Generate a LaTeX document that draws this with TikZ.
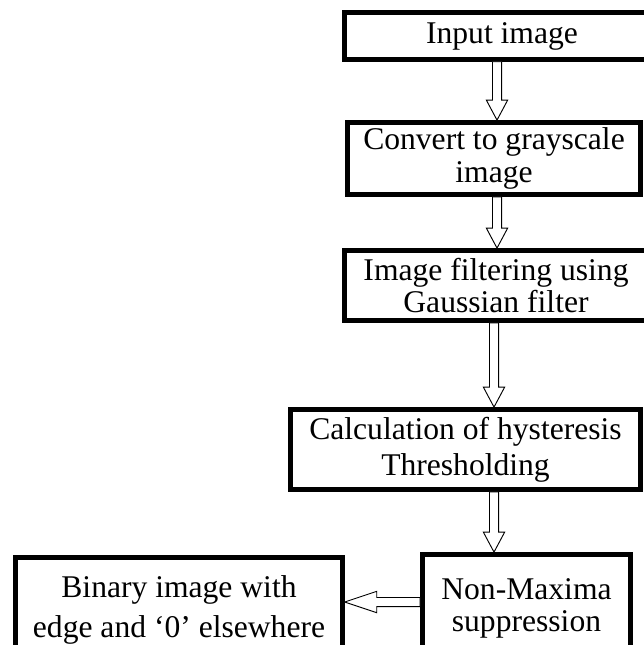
\documentclass[tikz,border=0pt]{standalone}
\usepackage{fontspec}
\setmainfont{Liberation Serif}
\usetikzlibrary{calc}

\newcommand\headlen{15pt}
\tikzset{
  stage/.style={draw, line width=3.6pt, align=center, inner sep=0pt},
  head len/.store in=\headlen,
  hollow/.style={draw, line width=0.7pt, fill=white, to path={
    let \p1=(\tikztostart), \p2=(\tikztotarget), \n1={atan2(\y2-\y1,\x2-\x1)} in
    ($(\p1)+({\n1+90}:3.4pt)$) -- ($(\p2)!\headlen!(\p1)+({\n1+90}:3.4pt)$)
    -- ($(\p2)!\headlen!(\p1)+({\n1+90}:8pt)$) -- (\p2)
    -- ($(\p2)!\headlen!(\p1)+({\n1-90}:8pt)$) -- ($(\p2)!\headlen!(\p1)+({\n1-90}:3.4pt)$)
    -- ($(\p1)+({\n1-90}:3.4pt)$) -- cycle}}
}

\begin{document}
\begin{tikzpicture}[x=0.75pt, y=-0.75pt]
  \useasboundingbox (0,0) rectangle (643,645);
  % processing stages
  \node[stage, minimum width=236pt, minimum height=35pt, font=\fontsize{23.7}{25}\selectfont] (input) at (502,36) {Input image};
  \node[stage, minimum width=220pt, minimum height=54pt, font=\fontsize{23.7}{25}\selectfont] (gray) at (494,158.5) {Convert to grayscale\\image};
  \node[stage, minimum width=227pt, minimum height=52.5pt, font=\fontsize{23.7}{23.5}\selectfont] (gauss) at (496,285.5) {Image filtering using\\Gaussian filter};
  \node[stage, minimum width=262.5pt, minimum height=60pt, font=\fontsize{23.7}{27}\selectfont] (hyst) at (465.5,449.5) {Calculation of hysteresis\\Thresholding};
  \node[stage, minimum width=156pt, minimum height=81pt, font=\fontsize{23.7}{24}\selectfont] (nms) at (526.5,608.5) {Non-Maxima\\suppression};
  \node[stage, minimum width=245pt, minimum height=79pt, font=\fontsize{23.7}{30}\selectfont] (binary) at (179,610) {Binary image with\\edge and ‘0’ elsewhere};
  % flow
  \coordinate (c1) at (497,0);
  \coordinate (c3) at (494,0);
  \coordinate (r5) at (0,602);
  \draw[hollow] (c1 |- input.south) to (c1 |- gray.north);
  \draw[hollow] (c1 |- gray.south) to (c1 |- gauss.north);
  \draw[hollow] (c3 |- gauss.south) to (c3 |- hyst.north);
  \draw[hollow] (c3 |- hyst.south) to (c3 |- nms.north);
  \draw[hollow, head len=24pt] (r5 -| nms.west) to (r5 -| binary.east);
\end{tikzpicture}
\end{document}
